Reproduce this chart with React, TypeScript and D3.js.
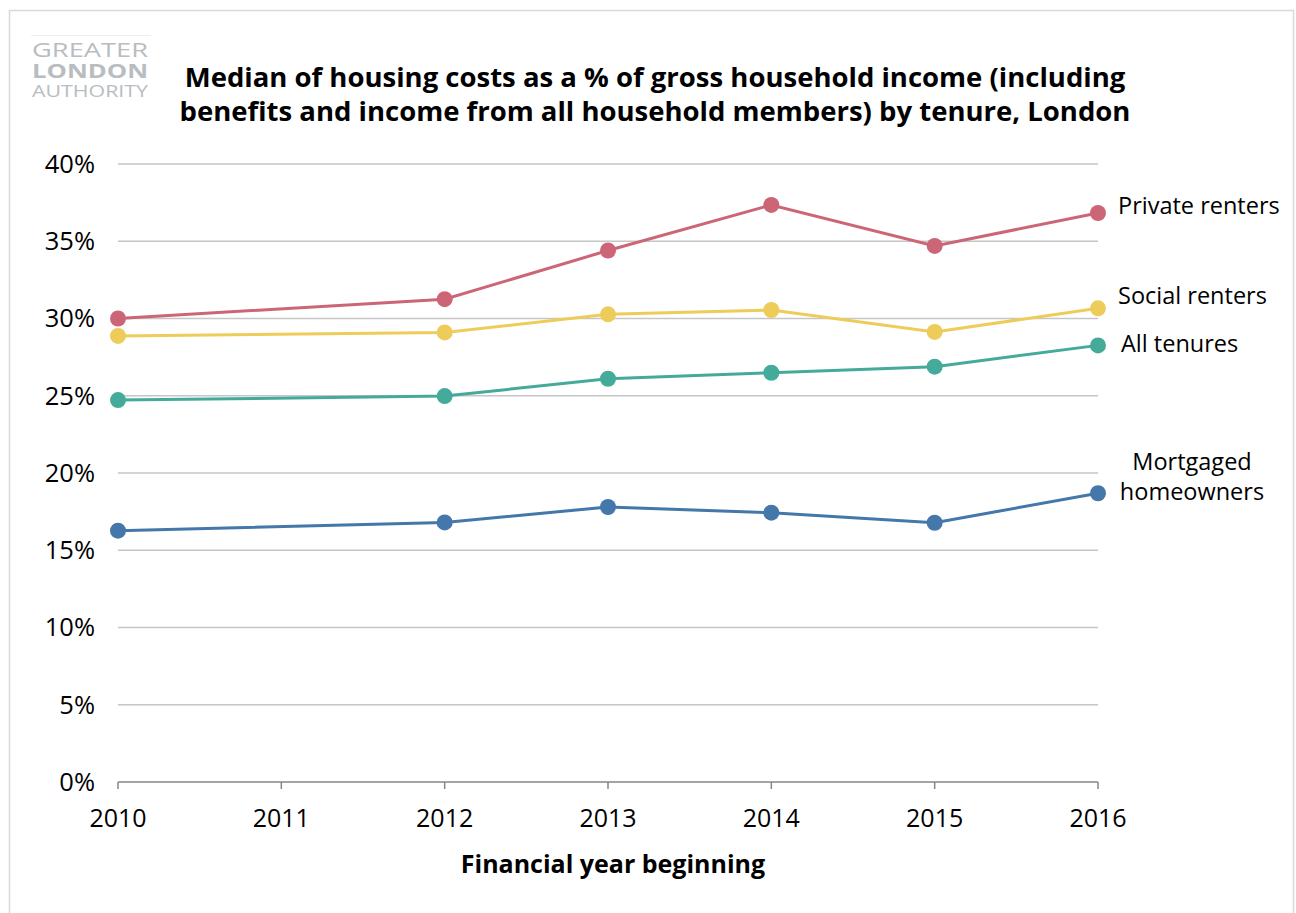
import React, { useEffect, useRef } from "react";
import * as d3 from "d3";

const years = [2010, 2012, 2013, 2014, 2015, 2016];
const privateRenters = [30.0, 31.25, 34.4, 37.35, 34.7, 36.83];
const socialRenters = [28.87, 29.1, 30.27, 30.55, 29.13, 30.66];
const allTenures = [24.72, 24.98, 26.1, 26.49, 26.88, 28.26];
const mortgaged = [16.27, 16.8, 17.8, 17.43, 16.78, 18.69];
const xTicks = [2010, 2011, 2012, 2013, 2014, 2015, 2016];
const yTicks = [0, 5, 10, 15, 20, 25, 30, 35, 40];
const seriesNames = ["Private renters", "Social renters", "All tenures", "Mortgaged homeowners"];
const seriesColors = ["#cc6677", "#edcc5a", "#44aa99", "#4477aa"];
const titleLines = [
  "Median of housing costs as a % of gross household income (including",
  "benefits and income from all household members) by tenure, London",
];
const logoLines = ["GREATER", "LONDON", "AUTHORITY"];

const FONT = "'Open Sans', 'Noto Sans', sans-serif";

export default function App() {
  const ref = useRef<SVGSVGElement>(null);
  useEffect(() => {
    const svg = d3.select(ref.current);
    svg.selectAll("*").remove();
    const W = 1296, H = 913;
    const x = d3.scaleLinear().domain([2010, 2016]).range([118, 1098]);
    const y = d3.scaleLinear().domain([0, 40]).range([782, 164]);

    svg.append("rect").attr("x", 0).attr("y", 0).attr("width", W).attr("height", H).attr("fill", "#fff");
    svg.append("rect").attr("x", 9.5).attr("y", 10.5).attr("width", 1284).attr("height", 920)
      .attr("fill", "none").attr("stroke", "#d9d9d9").attr("stroke-width", 1.5);

    // logo (single text element with stacked lines)
    const logo = svg.append("g").attr("font-family", FONT).attr("fill", "#b8bdc1");
    logo.append("line").attr("x1", 31).attr("x2", 151).attr("y1", 35.5).attr("y2", 35.5).attr("stroke", "#eeeeee");
    const lt = logo.append("text");
    const logoY = [57, 78, 97];
    const logoSize = [20, 20, 17];
    const logoWeight = [400, 700, 400];
    logoLines.forEach((s, i) => {
      lt.append("tspan").attr("x", 32).attr("y", logoY[i]).attr("font-size", logoSize[i])
        .attr("font-weight", logoWeight[i]).attr("textLength", 116)
        .attr("lengthAdjust", "spacingAndGlyphs").text(s);
    });

    // title
    svg.append("g").selectAll("text").data(titleLines).join("text")
      .attr("x", 655).attr("y", (_, i) => 87 + i * 34)
      .attr("text-anchor", "middle").attr("font-family", FONT).attr("font-weight", 700)
      .attr("font-size", 27.5).attr("fill", "#000").text(d => d);

    // grid
    svg.append("g").selectAll("line").data(yTicks.filter(t => t > 0)).join("line")
      .attr("x1", x(2010)).attr("x2", x(2016)).attr("y1", d => y(d)).attr("y2", d => y(d))
      .attr("stroke", "#c6c6c6").attr("stroke-width", 1.5);

    // y labels
    svg.append("g").selectAll("text").data(yTicks).join("text")
      .attr("x", 95).attr("y", d => y(d)).attr("dy", "0.35em").attr("text-anchor", "end")
      .attr("font-family", FONT).attr("font-size", 25.5).attr("fill", "#000").text(d => `${d}%`);

    // x axis
    const xa = svg.append("g");
    xa.append("line").attr("x1", x(2010)).attr("x2", x(2016)).attr("y1", y(0)).attr("y2", y(0))
      .attr("stroke", "#868686").attr("stroke-width", 1.5);
    xa.selectAll("line.tick").data(xTicks).join("line").attr("class", "tick")
      .attr("x1", d => x(d)).attr("x2", d => x(d)).attr("y1", y(0)).attr("y2", y(0) + 7)
      .attr("stroke", "#868686").attr("stroke-width", 1.5);
    xa.selectAll("text").data(xTicks).join("text")
      .attr("x", d => x(d)).attr("y", 827).attr("text-anchor", "middle")
      .attr("font-family", FONT).attr("font-size", 25).attr("fill", "#000").text(d => d);
    svg.append("text").attr("x", 613).attr("y", 873).attr("text-anchor", "middle")
      .attr("font-family", FONT).attr("font-weight", 700).attr("font-size", 25).attr("fill", "#000")
      .text("Financial year beginning");

    const all = [privateRenters, socialRenters, allTenures, mortgaged];
    const line = d3.line<number>().x((_, i) => x(years[i])).y(d => y(d));
    all.forEach((vals, si) => {
      const g = svg.append("g");
      g.append("path").attr("d", line(vals)!).attr("fill", "none")
        .attr("stroke", seriesColors[si]).attr("stroke-width", 3);
      g.selectAll("circle").data(vals).join("circle")
        .attr("cx", (_, i) => x(years[i])).attr("cy", d => y(d)).attr("r", 8)
        .attr("fill", seriesColors[si]);
    });

    // series labels
    const lab = svg.append("g").attr("font-family", FONT).attr("font-size", 23.5).attr("fill", "#000");
    const last = (a: number[]) => a[a.length - 1];
    lab.append("text").attr("x", 1118).attr("y", y(last(privateRenters)) - 7).attr("dy", "0.35em").text(seriesNames[0]);
    lab.append("text").attr("x", 1118).attr("y", y(last(socialRenters)) - 13).attr("dy", "0.35em").text(seriesNames[1]);
    lab.append("text").attr("x", 1121).attr("y", y(last(allTenures)) - 2).attr("dy", "0.35em").text(seriesNames[2]);
    lab.append("text").attr("x", 1192).attr("y", y(last(mortgaged)) - 31).attr("dy", "0.35em").attr("text-anchor", "middle").text("Mortgaged");
    lab.append("text").attr("x", 1192).attr("y", y(last(mortgaged)) - 1).attr("dy", "0.35em").attr("text-anchor", "middle").text("homeowners");
  }, []);
  return (
    <svg ref={ref} width={1296} height={913}
      style={{ position: "absolute", left: 0, top: 0, display: "block" }} />
  );
}
